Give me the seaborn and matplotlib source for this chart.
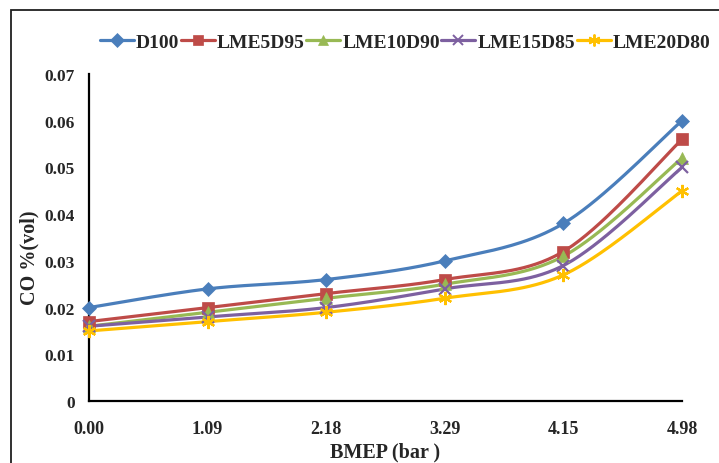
import numpy as np
import pandas as pd
import seaborn as sns
import matplotlib
matplotlib.use("Agg")
import matplotlib.pyplot as plt
from matplotlib.lines import Line2D
from matplotlib.patches import Rectangle
from matplotlib.ticker import MultipleLocator, FixedLocator, FuncFormatter

# BMEP categories (bar)
bmep_labels = ["0.00", "1.09", "2.18", "3.29", "4.15", "4.98"]

# CO emissions (% vol) for each fuel blend
d100 = [0.020, 0.024, 0.026, 0.030, 0.038, 0.060]
lme5d95 = [0.017, 0.020, 0.023, 0.026, 0.032, 0.056]
lme10d90 = [0.016, 0.019, 0.022, 0.025, 0.031, 0.052]
lme15d85 = [0.016, 0.018, 0.020, 0.024, 0.029, 0.050]
lme20d80 = [0.015, 0.017, 0.019, 0.022, 0.027, 0.045]

series_names = ["D100", "LME5D95", "LME10D90", "LME15D85", "LME20D80"]
series_values = [d100, lme5d95, lme10d90, lme15d85, lme20d80]
colors = ["#4A7EBB", "#BE4B48", "#98B954", "#7D60A0", "#FFC000"]
markers = ["D", "s", "^", "x", (6, 2, 0)]
msizes = [7.5, 8.5, 8, 8, 9.5]


def smooth_curve(y, n=40):
    """Bezier smoothing through every point (Catmull-Rom style tangents)."""
    y = np.asarray(y, dtype=float)
    x = np.arange(len(y), dtype=float)
    pts = np.column_stack([x, y])
    out = []
    for i in range(len(pts) - 1):
        p0 = pts[i - 1] if i > 0 else pts[i]
        p1 = pts[i]
        p2 = pts[i + 1]
        p3 = pts[i + 2] if i + 2 < len(pts) else pts[i + 1]
        c1 = p1 + (p2 - p0) / 6.0
        c2 = p2 - (p3 - p1) / 6.0
        t = np.linspace(0, 1, n)[:, None]
        seg = ((1 - t) ** 3) * p1 + 3 * ((1 - t) ** 2) * t * c1 + 3 * (1 - t) * t ** 2 * c2 + t ** 3 * p2
        out.append(seg if i == 0 else seg[1:])
    out = np.vstack(out)
    return out[:, 0], out[:, 1]


sns.set_style("white")
plt.rcParams["font.family"] = ["Liberation Serif", "DejaVu Serif"]
plt.rcParams["font.weight"] = "bold"

fig = plt.figure(figsize=(7.19, 4.64), dpi=100)
ax = fig.add_axes([89 / 719, 62 / 464, 593 / 719, 327 / 464])

for name, vals, c, m, ms in zip(series_names, series_values, colors, markers, msizes):
    xs, ys = smooth_curve(vals)
    sns.lineplot(x=xs, y=ys, ax=ax, color=c, lw=2.3, sort=False, legend=False, zorder=2)
    ax.plot(np.arange(len(vals)), vals, linestyle="none", marker=m, color=c,
            markersize=ms, markeredgewidth=1.6 if m in ("x", (6, 2, 0)) else 0.5,
            markeredgecolor=c, zorder=3, clip_on=False)

ax.set_xlim(0, len(bmep_labels) - 1)
ax.set_ylim(0, 0.07)
ax.xaxis.set_major_locator(FixedLocator(range(len(bmep_labels))))
ax.xaxis.set_major_formatter(FuncFormatter(lambda v, p: bmep_labels[int(round(v))]))
ax.xaxis.set_minor_locator(MultipleLocator(0.5))
ax.yaxis.set_major_locator(MultipleLocator(0.01))
ax.yaxis.set_minor_locator(MultipleLocator(0.001))
ax.yaxis.set_major_formatter(FuncFormatter(lambda v, p: "0" if abs(v) < 1e-9 else f"{v:.2f}"))

for s in ["top", "right"]:
    ax.spines[s].set_visible(False)
for s in ["left", "bottom"]:
    ax.spines[s].set_linewidth(1.6)
    ax.spines[s].set_color("black")

ax.tick_params(axis="y", which="major", direction="out", length=4, width=1.4,
               labelsize=12.5, pad=6, color="black")
ax.tick_params(axis="x", which="major", direction="out", length=4, width=1.4,
               labelsize=13, pad=10, color="black")
ax.tick_params(axis="x", which="minor", direction="out", length=4, width=1.4, color="black")
ax.tick_params(axis="y", which="minor", direction="out", length=2.5, width=1.2, color="black")
for lab in ax.get_xticklabels() + ax.get_yticklabels():
    lab.set_fontweight("bold")

ax.set_xlabel("BMEP (bar )", fontsize=14.5, fontweight="bold")
ax.set_ylabel("CO %(vol)", fontsize=14.5, fontweight="bold")
ax.xaxis.set_label_coords(0.5, (402 - 442) / 327)
ax.yaxis.set_label_coords((39 - 89) / 593, 0.44)

handles = [Line2D([], [], color=c, lw=2.3, marker=m, markersize=ms * 0.9,
                  markeredgewidth=1.4 if m in ("x", (6, 2, 0)) else 0.5, markeredgecolor=c)
           for c, m, ms in zip(colors, markers, msizes)]
fig.legend(handles, series_names, loc="center left", bbox_to_anchor=(100 / 719, 1 - 43 / 464),
           ncol=5, frameon=False, handlelength=1.75, handletextpad=0.1, columnspacing=0.08,
           borderaxespad=0, borderpad=0,
           prop={"family": "Liberation Serif", "weight": "bold", "size": 14})

# chart area outline
fig.add_artist(Rectangle((11 / 719, -0.1), 1.2, 1.1 - 11 / 464, transform=fig.transFigure,
                         fill=False, lw=1.3, ec="#202020", clip_on=False))

fig.savefig("out.png", dpi=100)
